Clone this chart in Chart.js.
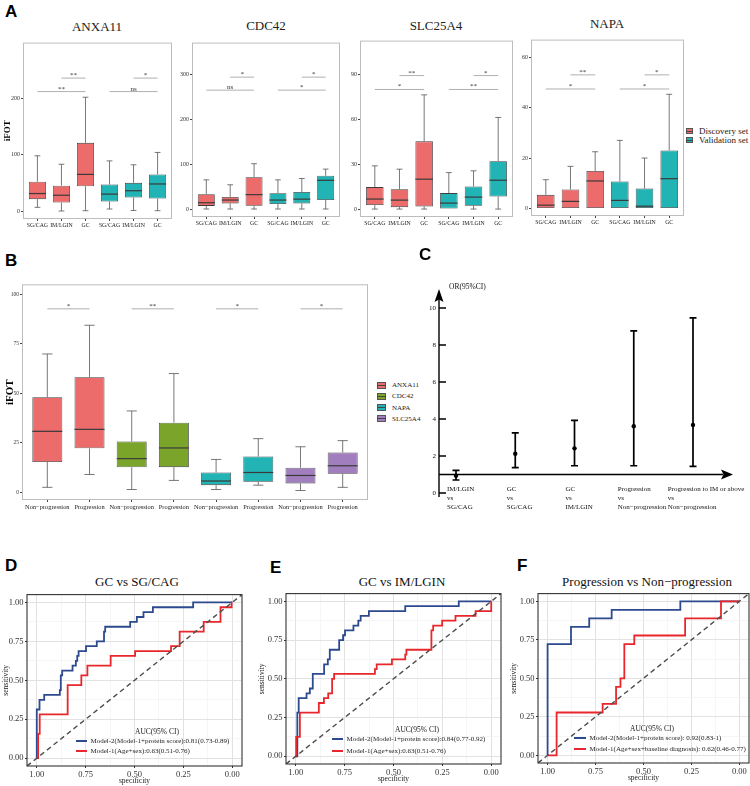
<!DOCTYPE html>
<html>
<head>
<meta charset="utf-8">
<script src="https://cdn.jsdelivr.net/npm/chart.js@4.4.1/dist/chart.umd.min.js"></script>
<style>
  body { margin: 0; width: 750px; height: 786px; position: relative; overflow: hidden; background: #fff;
         font-family: 'Liberation Serif', 'Times New Roman', serif; color: #1a1a1a; }
  canvas { position: absolute; }
  .t { position: absolute; white-space: nowrap; line-height: 1; }
  .c { transform: translate(-50%, -50%); }
  .m { transform: translateY(-50%); }
  .panel { font-family: 'Liberation Sans', Arial, sans-serif; font-weight: bold; font-size: 17px; color: #000; }
</style>
</head>
<body>
<script>
// ---- A: iFOT by stage, discovery (first 3) and validation (last 3) ----
const stageLabels = ['SG/CAG', 'IM/LGIN', 'GC', 'SG/CAG', 'IM/LGIN', 'GC'];
const setNames = ['Discovery set', 'Validation set'];
const setColors = ['#EC6B6B', '#22B3B5'];
// each box: [min, q1, median, q3, max]
const anxa11Box = [[6.5, 21, 31, 52, 98], [0, 15, 28, 45, 83], [0.5, 44, 65, 121, 202],
                   [3.5, 17, 30, 47, 89], [1, 24, 36, 50, 82], [0.5, 22, 48, 65, 104]];
const cdc42Box = [[0, 7, 14, 33, 65], [0, 12.5, 20, 27, 54], [0, 7.4, 32, 71, 101],
                  [0, 11, 20, 35, 65], [0, 12.5, 22, 38, 68], [0, 20, 64, 74, 89]];
const slc25a4Box = [[0, 2.7, 6.7, 14.7, 28.9], [0, 1.3, 6, 13.3, 26.7], [0, 1.8, 20, 45.3, 76.4],
                    [0, 0, 4, 10.7, 24.4], [0, 2.2, 8, 15.1, 25.6], [0, 8.4, 19.3, 32, 61.3]];
const napaBox = [[0, 0, 1.3, 5.4, 11.4], [0, 0, 2.8, 7.5, 16.7], [0, 0, 10.9, 14.9, 22.5],
                 [0, 0, 3.2, 10.7, 27], [0, 0, 0.9, 7.9, 20], [0, 0, 11.8, 23, 45.3]];
// significance: [from, to, height, label]
const anxa11Sig = [[1, 2, 236, '**'], [0, 2, 212, '**'], [4, 5, 236, '*'], [3, 5, 212, 'ns']];
const cdc42Sig = [[1, 2, 294, '*'], [0, 2, 265, 'ns'], [4, 5, 294, '*'], [3, 5, 265, '*']];
const slc25a4Sig = [[1, 2, 89.3, '**'], [0, 2, 80, '*'], [4, 5, 89.3, '*'], [3, 5, 80, '**']];
const napaSig = [[1, 2, 53, '**'], [0, 2, 47.4, '*'], [4, 5, 53, '*'], [3, 5, 47.4, '*']];

// ---- B: progression ----
const progLabels = ['Non−progression', 'Progression', 'Non−progression', 'Progression',
                    'Non−progression', 'Progression', 'Non−progression', 'Progression'];
const proteinNames = ['ANXA11', 'CDC42', 'NAPA', 'SLC25A4'];
const proteinColors = ['#EC6B6B', '#7BA42A', '#22B3B5', '#A17FBE'];
const progBox = [[2.4, 15.2, 30.7, 47.9, 69.8], [8.9, 22.1, 31.7, 58, 84.3],
                 [1.3, 12.5, 16.9, 25.6, 41], [5.9, 12.6, 22.3, 35.1, 59.9],
                 [1.3, 3.5, 5.6, 9.9, 16.5], [3.5, 5.2, 9.9, 18, 27],
                 [0.8, 4.4, 8.4, 12.3, 22.9], [2.4, 9.3, 13.3, 20, 26]];
const progSig = [[0, 1, 92.6, '*'], [2, 3, 92.6, '**'], [4, 5, 92.6, '*'], [6, 7, 92.6, '*']];

// ---- C: odds ratios ----
const orLabels = [['IM/LGIN', 'vs', 'SG/CAG'], ['GC', 'vs', 'SG/CAG'], ['GC', 'vs', 'IM/LGIN'],
                  ['Progression', 'vs', 'Non−progression'], ['Progression to IM or above', 'vs', 'Non−progression']];
const orValue = [0.93, 2.12, 2.41, 3.61, 3.68];
const orLower = [0.70, 1.37, 1.47, 1.47, 1.44];
const orUpper = [1.22, 3.25, 3.92, 8.77, 9.47];

// ---- D/E/F: ROC steps (specificity where sensitivity jumps, new sensitivity) ----
const dBlueSpec = [1.00, 0.986, 0.962, 0.882, 0.877, 0.870, 0.817, 0.800, 0.793, 0.786, 0.748, 0.693, 0.656, 0.650, 0.522, 0.488, 0.454, 0.406, 0.200, 0];
const dBlueSens = [0.3125, 0.375, 0.40625, 0.4375, 0.53125, 0.5625, 0.59375, 0.625, 0.65625, 0.6875, 0.71875, 0.75, 0.8125, 0.84375, 0.875, 0.90625, 0.9375, 0.96875, 1, 1];
const dRedSpec = [0.993, 0.985, 0.842, 0.772, 0.741, 0.622, 0.497, 0.313, 0.269, 0.146, 0.060, 0.003, 0];
const dRedSens = [0.15625, 0.28125, 0.46875, 0.53125, 0.59375, 0.65625, 0.6875, 0.71875, 0.8125, 0.875, 0.96875, 1, 1];
const eBlueSpec = [0.992, 0.985, 0.945, 0.928, 0.913, 0.855, 0.836, 0.826, 0.778, 0.758, 0.748, 0.705, 0.680, 0.668, 0.626, 0.440, 0.166, 0];
const eBlueSens = [0.28125, 0.375, 0.40625, 0.4375, 0.53125, 0.59375, 0.625, 0.6875, 0.75, 0.78125, 0.8125, 0.84375, 0.875, 0.90625, 0.9375, 0.96875, 1, 1];
const eRedSpec = [0.998, 0.979, 0.882, 0.856, 0.834, 0.814, 0.804, 0.595, 0.586, 0.508, 0.440, 0.434, 0.306, 0.297, 0.251, 0.183, 0.080, 0];
const eRedSens = [0.125, 0.28125, 0.34375, 0.375, 0.40625, 0.5, 0.53125, 0.5625, 0.59375, 0.625, 0.65625, 0.6875, 0.8125, 0.84375, 0.875, 0.90625, 0.9375, 1];
const fBlueSpec = [1.00, 0.878, 0.783, 0.666, 0.308, 0];
const fBlueSens = [0.7222, 0.8333, 0.8889, 0.9444, 1, 1];
const fRedSpec = [0.953, 0.713, 0.643, 0.620, 0.600, 0.548, 0.283, 0.096, 0];
const fRedSens = [0.2778, 0.3333, 0.4444, 0.5, 0.7222, 0.7778, 0.8889, 1, 1];
const rocLegendD = ['Model-2(Model-1+protein score):0.81(0.73-0.89)', 'Model-1(Age+sex):0.63(0.51-0.76)'];
const rocLegendE = ['Model-2(Model-1+protein score):0.84(0.77-0.92)', 'Model-1(Age+sex):0.63(0.51-0.76)'];
const rocLegendF = ['Model-2(Model-1+protein score): 0.92(0.83-1)', 'Model-1(Age+sex+baseline diagnosis): 0.62(0.46-0.77)'];
const rocBlue = '#2D4A8E';
const rocRed = '#E8262B';

Chart.defaults.font.family = "'Liberation Serif', 'Times New Roman', serif";
Chart.defaults.color = '#333';

function addCanvas(left, top, w, h) {
  const c = document.createElement('canvas');
  c.width = w; c.height = h;
  c.style.left = left + 'px'; c.style.top = top + 'px';
  c.style.width = w + 'px'; c.style.height = h + 'px';
  document.body.appendChild(c);
  return c;
}

function addText(str, x, y, css, anchor) {
  const d = document.createElement('div');
  d.className = 't ' + (anchor || '');
  d.textContent = str;
  d.style.left = x + 'px';
  d.style.top = y + 'px';
  if (css) d.style.cssText += css;
  document.body.appendChild(d);
  return d;
}

function addBox(left, top, w, h, css) {
  const d = document.createElement('div');
  d.style.cssText = `position:absolute;left:${left}px;top:${top}px;width:${w}px;height:${h}px;box-sizing:border-box;` + css;
  document.body.appendChild(d);
  return d;
}

// whiskers, medians, significance bars and the grey frame
function boxPlugin(stats, brackets) {
  return {
    id: 'boxExtras',
    afterDatasetsDraw(chart) {
      const { ctx, scales: { x, y } } = chart;
      const bars = chart.getDatasetMeta(0).data;
      ctx.save();
      stats.forEach((s, i) => {
        const { x: cx, width } = bars[i].getProps(['x', 'width'], true);
        const cap = width * 0.17;
        const py = s.map(v => y.getPixelForValue(v));
        ctx.strokeStyle = '#555';
        ctx.lineWidth = 0.8;
        ctx.beginPath();
        ctx.moveTo(cx, py[3]); ctx.lineTo(cx, py[4]);
        ctx.moveTo(cx - cap, py[4]); ctx.lineTo(cx + cap, py[4]);
        if (py[0] - py[1] > 0.5) {
          ctx.moveTo(cx, py[1]); ctx.lineTo(cx, py[0]);
          ctx.moveTo(cx - cap, py[0]); ctx.lineTo(cx + cap, py[0]);
        }
        ctx.stroke();
        ctx.strokeStyle = '#3a3a3a';
        ctx.lineWidth = 1.2;
        ctx.beginPath();
        ctx.moveTo(cx - width / 2, py[2]); ctx.lineTo(cx + width / 2, py[2]);
        ctx.stroke();
      });
      ctx.strokeStyle = '#9a9a9a';
      ctx.lineWidth = 0.8;
      ctx.fillStyle = '#333';
      ctx.font = "7px 'Liberation Serif'";
      ctx.textAlign = 'center';
      ctx.textBaseline = 'alphabetic';
      brackets.forEach(([a, b, v, label]) => {
        const x1 = x.getPixelForValue(a), x2 = x.getPixelForValue(b), yp = y.getPixelForValue(v);
        ctx.beginPath(); ctx.moveTo(x1, yp); ctx.lineTo(x2, yp); ctx.stroke();
        ctx.fillText(label, (x1 + x2) / 2, yp - 1);
      });
      ctx.restore();
    },
    afterDraw(chart) {
      const { ctx, chartArea: a } = chart;
      ctx.save();
      ctx.strokeStyle = '#bdbdbd';
      ctx.lineWidth = 1;
      ctx.strokeRect(a.left + 0.5, a.top + 0.5, a.right - a.left - 1, a.bottom - a.top - 1);
      ctx.restore();
    }
  };
}

function boxChart(o) {
  const canvas = addCanvas(o.left, o.top, o.width, o.height);
  return new Chart(canvas, {
    type: 'bar',
    data: {
      datasets: [{
        data: o.stats.map((s, i) => ({ x: i, y: [s[1], s[3]] })),
        backgroundColor: o.colors,
        borderColor: '#3d3d3d',
        borderWidth: 0.8,
        borderSkipped: false,
        barPercentage: 0.71,
        categoryPercentage: 1
      }]
    },
    options: {
      responsive: false, animation: false, devicePixelRatio: 1,
      layout: { padding: { top: o.padTop, right: o.padRight, left: 0, bottom: 0 } },
      plugins: { legend: { display: false }, tooltip: { enabled: false } },
      scales: {
        x: {
          type: 'linear', offset: false, min: -0.6, max: o.labels.length - 0.4,
          afterFit: s => { s.height = o.xH; },
          grid: { offset: false, drawOnChartArea: false, tickLength: 2, tickColor: '#444' },
          border: { display: false },
          ticks: { stepSize: 1, includeBounds: false, autoSkip: false, maxRotation: 0, padding: 1,
                   color: '#222', font: { size: o.xFont }, callback: v => o.labels[v] ?? '' }
        },
        y: {
          min: o.yMin, max: o.yMax,
          afterFit: s => { s.width = o.yW; },
          grid: { drawOnChartArea: false, tickLength: 2, tickColor: '#444' },
          border: { display: false },
          ticks: { stepSize: o.step, includeBounds: false, padding: 1, color: '#333', font: { size: o.yFont } },
          title: o.yTitle ? { display: true, text: o.yTitle, color: '#000', padding: { top: o.yTitlePad, bottom: 0 },
                              font: { size: o.yTitleSize, weight: 'bold' } } : { display: false }
        }
      }
    },
    plugins: [boxPlugin(o.stats, o.brackets)]
  });
}

// ---------- Panel A ----------
const aColors = stageLabels.map((_, i) => setColors[i < 3 ? 0 : 1]);
addText('A', 5, 3, '', 'panel');
const aPanels = [
  { name: 'ANXA11', stats: anxa11Box, sig: anxa11Sig, left: 0, top: 38, width: 174, height: 195, yW: 23, yMin: -14.2, yMax: 299, step: 100, title: [97, 26], yTitle: 'iFOT' },
  { name: 'CDC42', stats: cdc42Box, sig: cdc42Sig, left: 168, top: 38, width: 174, height: 193, yW: 24, yMin: -17.8, yMax: 371, step: 100, title: [266, 25] },
  { name: 'SLC25A4', stats: slc25a4Box, sig: slc25a4Sig, left: 336, top: 36, width: 179, height: 195, yW: 24, yMin: -5.3, yMax: 112.7, step: 30, title: [436, 25] },
  { name: 'NAPA', stats: napaBox, sig: napaSig, left: 508, top: 35, width: 178, height: 195, yW: 23, yMin: -3, yMax: 67, step: 20, title: [607, 23] }
];
aPanels.forEach(p => {
  addText(p.name, p.title[0], p.title[1], 'font-size:13px;color:#222', 'c');
  boxChart({
    left: p.left, top: p.top, width: p.width, height: p.height, padTop: 4, padRight: 2,
    yW: p.yW, xH: 14, yMin: p.yMin, yMax: p.yMax, step: p.step, stats: p.stats, brackets: p.sig,
    colors: aColors, labels: stageLabels, xFont: 5.8, yFont: 6,
    yTitle: p.yTitle, yTitleSize: 9, yTitlePad: 2.5
  });
});
setNames.forEach((n, k) => {
  const cy = 131 + k * 9;
  addBox(686, cy - 3, 7, 6, `background:${setColors[k]};border:0.6px solid #555;`);
  addBox(686, cy - 0.5, 7, 1, 'background:#444;');
  addText(n, 699, cy, 'font-size:9px;color:#222', 'm');
});

// ---------- Panel B ----------
addText('B', 5, 252, '', 'panel');
boxChart({
  left: 0, top: 280, width: 370, height: 234, padTop: 4, padRight: 2,
  yW: 22, xH: 14, yMin: -4, yMax: 105, step: 25, stats: progBox, brackets: progSig,
  colors: progBox.map((_, i) => proteinColors[Math.floor(i / 2)]), labels: progLabels, xFont: 6.4, yFont: 5.5,
  yTitle: 'iFOT', yTitleSize: 11, yTitlePad: 4
});
proteinNames.forEach((n, k) => {
  const cy = 385.3 + k * 11.1;
  addBox(377, cy - 3.5, 9, 7, `background:${proteinColors[k]};border:0.6px solid #555;`);
  addBox(377, cy - 0.5, 9, 1, 'background:#444;');
  addText(n, 392, cy, 'font-size:7px;color:#222', 'm');
});

// ---------- Panel C ----------
addText('C', 419, 246, '', 'panel');
addText('OR(95%CI)', 449, 287, 'font-size:7.5px;color:#111', 'm');
const orPlugin = {
  id: 'orAxes',
  beforeDatasetsDraw(chart) {
    const { ctx, chartArea: a, scales: { x, y } } = chart;
    const ax = a.left, base = y.getPixelForValue(1);
    ctx.save();
    ctx.strokeStyle = '#000';
    ctx.fillStyle = '#000';
    ctx.lineWidth = 1.4;
    ctx.beginPath();
    ctx.moveTo(ax, a.bottom); ctx.lineTo(ax, a.top + 10);
    y.ticks.forEach(t => { const py = y.getPixelForValue(t.value); ctx.moveTo(ax, py); ctx.lineTo(ax + 7, py); });
    ctx.moveTo(ax, base); ctx.lineTo(a.right - 10, base);
    ctx.stroke();
    ctx.beginPath();
    ctx.moveTo(ax, a.top); ctx.lineTo(ax + 4.5, a.top + 13); ctx.lineTo(ax, a.top + 10.5); ctx.lineTo(ax - 4.5, a.top + 13);
    ctx.closePath(); ctx.fill();
    ctx.beginPath();
    ctx.moveTo(a.right, base); ctx.lineTo(a.right - 12, base - 5); ctx.lineTo(a.right - 9.5, base); ctx.lineTo(a.right - 12, base + 5);
    ctx.closePath(); ctx.fill();
    ctx.lineWidth = 1.7;
    ctx.beginPath();
    orValue.forEach((v, i) => {
      const px = x.getPixelForValue(i), lo = y.getPixelForValue(orLower[i]), hi = y.getPixelForValue(orUpper[i]);
      ctx.moveTo(px, lo); ctx.lineTo(px, hi);
      ctx.moveTo(px - 3.5, lo); ctx.lineTo(px + 3.5, lo);
      ctx.moveTo(px - 3.5, hi); ctx.lineTo(px + 3.5, hi);
    });
    ctx.stroke();
    ctx.font = "7px 'Liberation Serif'";
    ctx.textAlign = 'left';
    ctx.textBaseline = 'middle';
    ctx.fillStyle = '#111';
    orLabels.forEach((lines, i) => {
      const w = Math.max(...lines.map(s => ctx.measureText(s).width));
      const lx = x.getPixelForValue(i) - w * 0.33;
      lines.forEach((s, k) => ctx.fillText(s, lx, base + 15 + k * 9));
    });
    ctx.restore();
  }
};
new Chart(addCanvas(400, 280, 345, 240), {
  type: 'scatter',
  data: { datasets: [{ data: orValue.map((v, i) => ({ x: i, y: v })), pointRadius: 2.2,
                       backgroundColor: '#000', borderWidth: 0 }] },
  options: {
    responsive: false, animation: false, devicePixelRatio: 1,
    layout: { padding: { top: 9, right: 12, bottom: 23, left: 0 } },
    plugins: { legend: { display: false }, tooltip: { enabled: false } },
    scales: {
      x: { type: 'linear', display: false, min: -0.287, max: 4.675 },
      y: { min: -0.22, max: 11.03, afterFit: s => { s.width = 39; },
           grid: { display: false, drawTicks: false }, border: { display: false },
           ticks: { stepSize: 2, includeBounds: false, padding: 3, color: '#111', font: { size: 7 } } }
    }
  },
  plugins: [orPlugin]
});

// ---------- Panels D, E, F ----------
function stairPath(spec, sens) {
  const pts = [{ x: 1, y: 0 }];
  let prev = 0;
  spec.forEach((s, i) => {
    pts.push({ x: s, y: prev });
    pts.push({ x: s, y: sens[i] });
    prev = sens[i];
  });
  return pts;
}
const rocLim = [-0.05, 1.05];
const isMajor = c => c.tick && Math.round(c.tick.value * 8) % 2 === 0;
const rocFrame = {
  id: 'rocFrame',
  afterDraw(chart) {
    const { ctx, chartArea: a } = chart;
    ctx.save();
    ctx.strokeStyle = '#333';
    ctx.lineWidth = 1.1;
    ctx.strokeRect(a.left, a.top, a.right - a.left, a.bottom - a.top);
    ctx.restore();
  }
};
function rocChart(o) {
  const axis = (extra) => Object.assign({
    min: rocLim[0], max: rocLim[1],
    grid: { color: c => isMajor(c) ? '#E2E2E2' : '#F0F0F0', lineWidth: c => isMajor(c) ? 1 : 0.6,
            tickColor: c => isMajor(c) ? '#333' : 'rgba(0,0,0,0)', tickLength: 2 },
    border: { display: false },
    ticks: { stepSize: 0.125, includeBounds: false, autoSkip: false, maxRotation: 0, padding: 1.5,
             color: '#333', font: { size: 8.5 },
             callback: v => (Math.round(v * 8) % 2 === 0 ? v.toFixed(2) : '') }
  }, extra);
  return new Chart(addCanvas(o.left, o.top, o.width, o.height), {
    type: 'scatter',
    data: {
      datasets: [
        { data: rocLim.slice().reverse().map(v => ({ x: v, y: 1 - v })), showLine: true, pointRadius: 0,
          borderColor: '#4d4d4d', borderWidth: 1.4, borderDash: [5, 3.5] },
        { data: stairPath(o.redSpec, o.redSens), showLine: true, pointRadius: 0, borderColor: rocRed, borderWidth: 1.8 },
        { data: stairPath(o.blueSpec, o.blueSens), showLine: true, pointRadius: 0, borderColor: rocBlue, borderWidth: 1.8 }
      ]
    },
    options: {
      responsive: false, animation: false, devicePixelRatio: 1,
      layout: { padding: { top: o.padTop, right: o.padRight, left: 0, bottom: 0 } },
      plugins: { legend: { display: false }, tooltip: { enabled: false } },
      scales: {
        x: axis({ type: 'linear', reverse: true, afterFit: s => { s.height = 20; },
                  title: { display: true, text: 'specificity', color: '#222', padding: 0, font: { size: 7.5 } } }),
        y: axis({ afterFit: s => { s.width = o.yW; },
                  title: { display: true, text: 'sensitivity', color: '#222', padding: { top: o.yTitlePad, bottom: 0 }, font: { size: 7.5 } } })
      }
    },
    plugins: [rocFrame]
  });
}
function rocLegend(cx, keyLeft, keyW, rows, labels) {
  addText('AUC(95% CI)', cx, rows[0] - 9.5, 'font-size:7.5px;color:#222', 'c');
  [rocBlue, rocRed].forEach((col, k) => {
    addBox(keyLeft, rows[k] - 1, keyW, 2, `background:${col};`);
    addText(labels[k], keyLeft + keyW + 3.5, rows[k], 'font-size:7px;color:#222', 'm');
  });
}

addText('D', 5, 557, '', 'panel');
addText('GC vs SG/CAG', 137, 581, 'font-size:13px;color:#111', 'c');
rocChart({ left: 0, top: 588, width: 246, height: 198, padTop: 5, padRight: 4, yW: 27, yTitlePad: 1.5,
           blueSpec: dBlueSpec, blueSens: dBlueSens, redSpec: dRedSpec, redSens: dRedSens });
rocLegend(157, 76, 11, [741, 751], rocLegendD);

addText('E', 270, 559, '', 'panel');
addText('GC vs IM/LGIN', 402, 581, 'font-size:13px;color:#111', 'c');
rocChart({ left: 258, top: 587, width: 246, height: 197, padTop: 5, padRight: 3, yW: 28, yTitlePad: 0,
           blueSpec: eBlueSpec, blueSens: eBlueSens, redSpec: eRedSpec, redSens: eRedSens });
rocLegend(417, 332, 11, [739, 751], rocLegendE);

addText('F', 517, 557, '', 'panel');
addText('Progression vs Non−progression', 647, 581, 'font-size:13px;color:#111', 'c');
rocChart({ left: 510, top: 587, width: 240, height: 196, padTop: 5, padRight: 1, yW: 28, yTitlePad: 0,
           blueSpec: fBlueSpec, blueSens: fBlueSens, redSpec: fRedSpec, redSens: fRedSens });
rocLegend(652, 574, 12, [738, 749], rocLegendF);
</script>
</body>
</html>
